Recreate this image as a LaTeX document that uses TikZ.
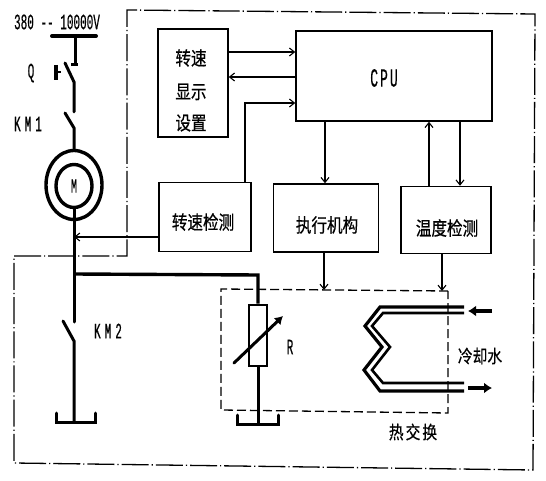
\documentclass[tikz,border=0pt]{standalone}
\usepackage{fontspec}
\setmainfont[FakeStretch=0.82,FakeBold=0.6]{Noto Sans CJK SC}
\newfontfamily\lat[FakeStretch=0.5,FakeBold=0.4]{Liberation Mono}
\usetikzlibrary{arrows.meta,calc,shapes.geometric}
\tikzset{
  blk/.style={draw,line width=1.4bp,inner sep=0pt},
  sig/.style={line width=1.2bp,-{Straight Barb[length=5bp,width=8bp,line width=1.1bp]}},
  pwr/.style={line width=3bp},
  frameline/.style={line width=1.3bp,dash pattern=on 27bp off 3bp on 1.2bp off 3bp},
  dashbox/.style={line width=1.3bp,dash pattern=on 9bp off 4bp},
  lbl/.style={font=\lat\fontsize{22bp}{24bp}\selectfont,inner sep=0pt},
  cjk/.style={font=\fontsize{19bp}{21bp}\selectfont,inner sep=0pt},
  fat/.style={line width=3.2bp,-{Latex[length=8bp,width=11bp]}},
}
\begin{document}
\begin{tikzpicture}[x=1bp,y=-1bp]
\useasboundingbox (0,0) rectangle (546,481);
% frames
\draw[frameline] (14,256) -- (127,256) -- (127,10) -- (535,14) -- (533,470) -- (14,463) -- cycle;
\draw[dashbox] (448,291) -- (221,289) -- (221,410) -- (448,413) -- cycle;
% blocks
\node[blk,minimum width=70bp,minimum height=108bp] (disp) at (193,83) {};
\node[cjk] (t1) at (191,58) {转速};
\node[cjk] (t2) at (191,92) {显示};
\node[cjk] (t3) at (191,123) {设置};
\node[blk,minimum width=196bp,minimum height=90bp] (cpu) at (394,76) {};
\node[lbl,font=\lat\fontsize{26bp}{28bp}\selectfont] (t4) at (384,78) {C\hspace{2bp}P\hspace{2bp}U};
\node[blk,minimum width=92bp,minimum height=69bp] (spd) at (205,217) {};
\node[cjk] (t5) at (203,222) {转速检测};
\node[blk,minimum width=105bp,minimum height=68bp] (act) at (326,218) {};
\node[cjk] (t6) at (327,225) {执行机构};
\node[blk,minimum width=90bp,minimum height=67bp] (tmp) at (446,220) {};
\node[cjk] (t7) at (447,228) {温度检测};
% signals
\draw[sig] (disp.east |- 0,52) -- (cpu.west |- 0,52);
\draw[sig] (cpu.west |- 0,77) -- (disp.east |- 0,77);
\draw[sig] (spd.north -| 245,0) -- (245,103) -- (cpu.west |- 0,103);
\draw[sig] (cpu.south -| 325,0) -- (act.north -| 325,0);
\draw[sig] (tmp.north -| 429,0) -- (cpu.south -| 429,0);
\draw[sig] (cpu.south -| 460,0) -- (tmp.north -| 460,0);
\coordinate (shaftpt) at (74,237);
\draw[sig] (spd.west |- shaftpt) -- (shaftpt);
\coordinate (dtop1) at (324,290);
\coordinate (dtop2) at (442,291);
\draw[sig] (act.south -| dtop1) -- (dtop1);
\draw[sig] (tmp.south -| dtop2) -- (dtop2);
% supply
\draw[line width=4bp,line cap=round] (52,36) -- (96,36);
\draw[pwr] (75,36) -- (75,65);
\draw[line width=3bp] (71,65) -- (78,65);
\draw[pwr,line cap=round] (65,63) -- (74,82) -- (74,112);
\draw[line width=3.5bp] (56,65) -- (56,80);
\draw[line width=1.8bp] (56,72) -- (61,72);
\draw[pwr,line cap=round] (65,113) -- (74,128) -- (74,150);
\node[lbl] (t8) at (57,22) {380 -- 10000V};
\node[lbl] (t9) at (31,73) {Q};
\node[lbl] (t10) at (28,124) {K\hspace{4bp}M\hspace{4bp}1};
% motor
\node[draw,ellipse,line width=3.4bp,minimum width=56bp,minimum height=69bp,inner sep=0pt] (mo) at (74,185) {};
\node[draw,ellipse,line width=3.4bp,minimum width=36bp,minimum height=43bp,inner sep=0pt,font=\lat\fontsize{20bp}{22bp}\selectfont] (mi) at (74,186) {M};
% shaft and KM2
\draw[pwr,line cap=round] (mi.south) -- (74,322);
\draw[pwr,line cap=round] (63,321) -- (74,341) -- (74,422);
\node[lbl] (t11) at (108,331) {K\hspace{4bp}M\hspace{4bp}2};
\draw[line width=3bp,line cap=round] (56,413) -- (56,422) -- (95,422) -- (95,413);
% resistor
\node[draw,line width=2.6bp,minimum width=18bp,minimum height=61bp,inner sep=0pt] (res) at (258,335.5) {};
\draw[line width=3.4bp] (74,274) -- (258,275) -- (res.north);
\draw[pwr] (res.south) -- (258,424);
\draw[line width=3bp,line cap=round] (237,415) -- (237,424) -- (278,424) -- (278,415);
\draw[line width=3bp,line cap=round,-{Latex[length=8bp,width=10bp]}] (234,363) -- (283,316);
\node[lbl] (t12) at (290,347) {R};
% heat exchanger
\draw[line width=3.2bp] (464,307) -- (380,307) -- (365,326) -- (382,347) -- (364,370) -- (380,391) -- (464,391);
\draw[line width=2.6bp] (464,313) -- (383,313) -- (372,326) -- (390,347) -- (372,370) -- (383,383) -- (464,383);
\coordinate (wa) at (492,311);
\coordinate (wb) at (468,311);
\coordinate (wc) at (468,388);
\coordinate (wd) at (492,388);
\draw[fat] (wa) -- (wb);
\draw[fat] (wc) -- (wd);
\node[cjk,font=\fontsize{18bp}{20bp}\selectfont] (t13) at (480,356) {冷却水};
\node[cjk,font=\fontsize{18bp}{20bp}\selectfont] (t14) at (413,432) {热\hspace{2bp}交\hspace{2bp}换};
\end{tikzpicture}
\end{document}
